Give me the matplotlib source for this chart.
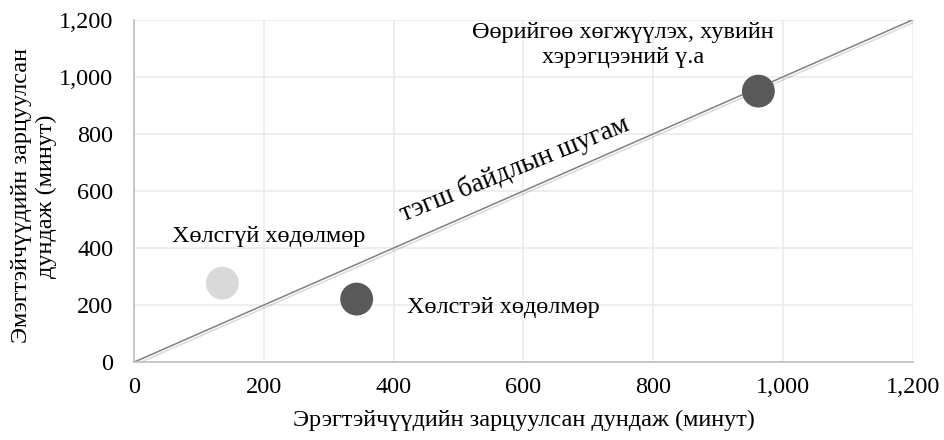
import matplotlib.pyplot as plt
import matplotlib.patheffects as pe
from matplotlib.ticker import FuncFormatter

plt.rcParams['font.family'] = ['Liberation Serif', 'DejaVu Serif']

# data
categories = ["Хөлсгүй хөдөлмөр", "Хөлстэй хөдөлмөр",
              "Өөрийгөө хөгжүүлэх, хувийн\nхэрэгцээний ү.а"]
men = [136, 343, 962]
women = [277, 221, 950]
colors = ["#d9d9d9", "#595959", "#595959"]
ticks = [0, 200, 400, 600, 800, 1000, 1200]

fig = plt.figure(figsize=(9.44, 4.4), dpi=100)
ax = fig.add_axes([0.142, 0.177, 0.825, 0.778])

ax.plot([0, 1200], [0, 1200], color="#808080", lw=1.1, zorder=2,
        path_effects=[pe.SimpleLineShadow(offset=(1.5, -1.5), alpha=0.15), pe.Normal()])
ax.scatter(men, women, s=560, c=colors, zorder=3, linewidths=0)

fs = 17.5
ax.text(58, 439, categories[0], fontsize=fs, va="center", ha="left")
ax.text(420, 193, categories[1], fontsize=fs, va="center", ha="left")
ax.text(753, 1112, categories[2], fontsize=fs, va="center", ha="center", linespacing=1.3)
ax.text(590, 653, "тэгш байдлын шугам", fontsize=19.5, va="baseline", ha="center",
        rotation=22, rotation_mode="anchor")

ax.set_xlim(0, 1200)
ax.set_ylim(0, 1200)
ax.set_xticks(ticks)
ax.set_yticks(ticks)
fmt = FuncFormatter(lambda v, p: f"{int(v):,}")
ax.xaxis.set_major_formatter(fmt)
ax.yaxis.set_major_formatter(fmt)
ax.tick_params(length=0, labelsize=17.5)
ax.tick_params(axis="y", pad=15)
ax.tick_params(axis="x", pad=11)
ax.grid(True, color="#ebebeb", lw=1.2)
ax.set_axisbelow(True)
for s in ["top", "right"]:
    ax.spines[s].set_visible(False)
for s in ["left", "bottom"]:
    ax.spines[s].set_color("#bfbfbf")
    ax.spines[s].set_linewidth(1.2)

ax.set_xlabel("Эрэгтэйчүүдийн зарцуулсан дундаж (минут)", fontsize=fs, labelpad=8)
fig.text(34 / 944, 0.555, "Эмэгтэйчүүдийн зарцуулсан\nдундаж (минут)", fontsize=fs,
         rotation=90, ha="center", va="center", linespacing=1.2, multialignment="center")

fig.savefig("out.png", dpi=100)
